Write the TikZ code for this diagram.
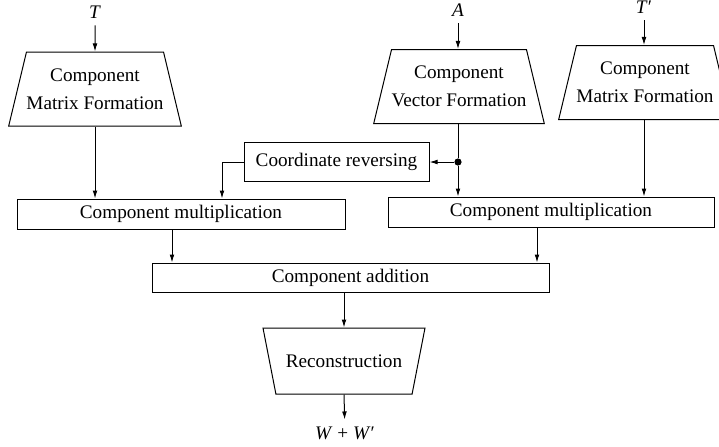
\documentclass[tikz,border=0pt]{standalone}
\usepackage{fontspec}
\setmainfont{Liberation Serif}
\usetikzlibrary{arrows.meta,shapes.geometric}
\tikzset{
  >={Latex[length=4pt,width=2.4pt]},
  txt/.style={font=\fontsize{9.6}{14}\selectfont},
  block/.style={draw,txt,minimum width=#1,minimum height=15pt,inner sep=0pt},
  block/.default=160pt,
  funnel/.style={draw,txt,trapezium,trapezium stretches body,trapezium angle=66.5,
    minimum width=77.5pt,minimum height=37pt,inner sep=0pt,align=center},
  outfunnel/.style={funnel,shape border rotate=180,trapezium angle=45,minimum width=81pt,minimum height=33pt},
  label/.style={txt,inner sep=3.3pt},
  junction/.style={circle,fill,inner sep=0pt,minimum size=3.6pt},
}
\begin{document}
\begin{tikzpicture}[x=0.5pt,y=-0.5pt,line width=0.5pt]
  \clip (0,0) rectangle (719,446);
  % inputs and formation stages
  \node[label] (tin) at (95,12) {\textit{T}};
  \node[label] (ain) at (458,10) {\textit{A}};
  \node[label] (tpin) at (644,7) {\textit{T}′};
  \node[funnel] (trL) at (95,89) {Component\\Matrix Formation};
  \node[funnel] (trM) at (459,86.5) {Component\\Vector Formation};
  \node[funnel] (trR) at (645,82.5) {Component\\Matrix Formation};
  \node[block=92.5pt,minimum height=19.5pt] (rev) at (336.5,162) {Coordinate reversing};
  \node[junction] (dot) at (458,162) {};
  % products and sum
  \node[block=164pt] (multL) at (181,214) {Component multiplication};
  \node[block=163pt] (multR) at (551,212) {Component multiplication};
  \node[block=198.5pt,minimum height=14.5pt] (add) at (350.5,277.5) {Component addition};
  \node[outfunnel] (rec) at (344,361) {Reconstruction};
  \node[label] (out) at (345,433) {\textit{W} + \textit{W}′};
  % connectors
  \draw[->] (tin) -- (trL.north);
  \draw[->] (ain) -- (ain |- trM.north);
  \draw[->] (tpin) -- (tpin |- trR.north);
  \draw[->] (trL.south) -- (trL.south |- multL.north);
  \draw (ain |- trM.south) -- (dot);
  \draw[->] (dot) -- (dot |- multR.north);
  \draw[->] (dot) -- (rev.east);
  \draw[->] (rev.west) -| ([xshift=20.5pt]multL.north);
  \draw[->] (tpin |- trR.south) -- (tpin |- multR.north);
  \draw[->] ([xshift=-4.5pt]multL.south) -- ([xshift=-4.5pt]multL.south |- add.north);
  \draw[->] ([xshift=-7pt]multR.south) -- ([xshift=-7pt]multR.south |- add.north);
  \draw[->] (rec.north |- add.south) -- (rec.north);
  \draw[->] (rec.south) -- (out);
\end{tikzpicture}
\end{document}
